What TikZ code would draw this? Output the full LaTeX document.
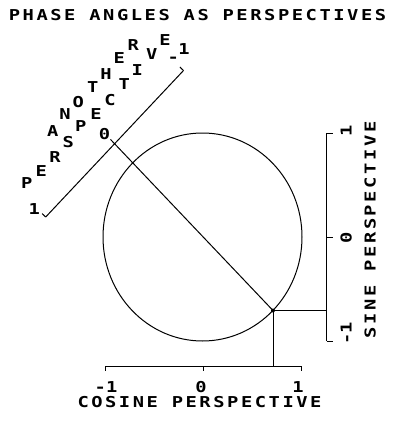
\documentclass[tikz,border=0pt]{standalone}
\usepackage{fontspec}
\usetikzlibrary{calc}
\newfontfamily\plotsp[LetterSpace=17,FakeStretch=1.25]{DejaVu Sans Mono}
\newfontfamily\plotch[FakeStretch=1.25]{DejaVu Sans Mono}
\begin{document}
\begin{tikzpicture}[x=1pt,y=-1pt,line width=1pt,
  lbl/.style={inner sep=0pt,font=\fontsize{15}{16}\selectfont\plotch\bfseries},
  wide/.style={inner sep=0pt,font=\fontsize{15}{16}\selectfont\plotsp\bfseries},
  dot/.style={circle,fill=black,inner sep=0pt,minimum size=4pt}]
\useasboundingbox (0,0) rectangle (393,423);
% title
\node[wide,anchor=base west] (title) at (8.4,20.5) {PHASE ANGLES AS PERSPECTIVES};
% circle
\coordinate (C) at (202.5,237);
\draw (C) ellipse [x radius=99.5pt,y radius=104pt];
\node[dot] (P) at (273,310.5) {};
% sine axis
\coordinate (s1) at (326.5,133);
\coordinate (s0) at (326.5,237);
\coordinate (sm) at (326.5,341);
\coordinate (sp) at (326.5,310.5);
\draw (s1) -- (sm);
\draw (s1) -- ++(6,0);
\draw (s0) -- ++(6,0);
\draw (sm) -- ++(6,0);
\draw (P.center) -- (sp);
% cosine axis
\coordinate (cm) at (105,366);
\coordinate (c0) at (203,366);
\coordinate (c1) at (301,366);
\coordinate (cp) at (273,366);
\draw (cm) -- (c1);
\draw (cm) -- ++(0,5);
\draw (c0) -- ++(0,5);
\draw (c1) -- ++(0,5);
\draw (P.center) -- (cp);
% another perspective axis
\coordinate (a1) at (45.7,217);
\coordinate (am) at (183.5,70.5);
\coordinate (a0) at (114.6,143.75);
\draw (a1) -- (am);
\draw (a1) -- ++(-3.6,-3.4);
\draw (am) -- ++(-3.6,-3.4);
\draw (P.center) -- ($(a0)!-6pt!(P)$);
% axis numbers
\node[lbl,anchor=base] (cnm) at (106,392) {-1};
\node[lbl,anchor=base] (cn0) at (201,392) {0};
\node[lbl,anchor=base] (cn1) at (298,392) {1};
\node[wide,anchor=base west] (coslab) at (77,407) {COSINE PERSPECTIVE};
\node[lbl,anchor=base,rotate=90] (sn1) at (351.5,131) {1};
\node[lbl,anchor=base,rotate=90] (sn0) at (351.5,238) {0};
\node[lbl,anchor=base,rotate=90] (snm) at (351.5,333) {-1};
\node[wide,anchor=base west,rotate=90] (sinlab) at (375.5,338.5) {SINE PERSPECTIVE};
\node[lbl] (an1) at (34.3,209) {1};
\node[lbl] (an0) at (104.5,134) {0};
\node[lbl] (anm) at (173.3,60) {-};
\node[lbl] (anm1) at (184,49) {1};
% staircase words
\node[lbl] (p1) at (26.7,182.7) {P};
\node[lbl] (p2) at (41.2,171.2) {E};
\node[lbl] (p3) at (55,156.7) {R};
\node[lbl] (p4) at (68.3,141.7) {S};
\node[lbl] (p5) at (80.8,126) {P};
\node[lbl] (p6) at (96,114.3) {E};
\node[lbl] (p7) at (110,100) {C};
\node[lbl] (p8) at (124.3,84.3) {T};
\node[lbl] (p9) at (137.3,70) {I};
\node[lbl] (p10) at (151.7,54.3) {V};
\node[lbl] (p11) at (165,40) {E};
\node[lbl] (q1) at (52.7,131) {A};
\node[lbl] (q2) at (65,114.3) {N};
\node[lbl] (q3) at (78.3,101.7) {O};
\node[lbl] (q4) at (92.7,86.7) {T};
\node[lbl] (q5) at (106,74.3) {H};
\node[lbl] (q6) at (119.3,57.7) {E};
\node[lbl] (q7) at (133.3,45) {R};
\end{tikzpicture}
\end{document}
